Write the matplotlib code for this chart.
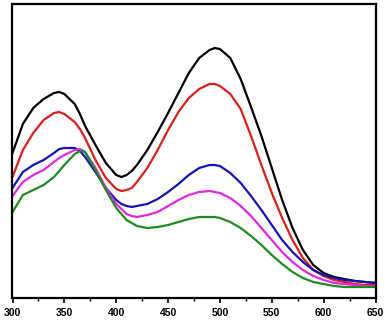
import numpy as np
import matplotlib
matplotlib.use("Agg")
from matplotlib import pyplot as plt
from matplotlib.ticker import MultipleLocator

# wavelength (nm)
wl = [300, 310, 320, 330, 340, 345, 350, 360, 365, 370, 380, 390, 400, 405, 410, 415, 420,
      430, 440, 450, 460, 470, 480, 490, 495, 500, 510, 520, 530, 540, 550, 560, 570,
      580, 590, 600, 610, 620, 630, 640, 650]

# curve heights (a.u.)
black = [145, 174, 190, 199, 205, 206, 204, 194, 184, 172, 153, 135, 123, 121, 123, 127, 133,
         148, 166, 185, 205, 225, 240, 248, 250, 249, 240, 219, 191, 162, 130, 98, 70,
         48, 33, 25, 21, 19, 17, 16, 15]
red = [121, 148, 165, 178, 185, 186, 184, 176, 169, 160, 138, 120, 109, 107, 108, 110, 116,
       130, 148, 168, 186, 200, 209, 214, 214, 212, 204, 189, 162, 133, 105, 80, 58,
       40, 28, 22, 18, 16, 14, 13, 13]
blue = [110, 126, 133, 138, 145, 149, 150, 150, 147, 141, 126, 110, 98, 94, 92, 91, 92,
        94, 99, 106, 114, 123, 130, 133, 133, 132, 125, 115, 102, 88, 73, 58, 46,
        36, 28, 23, 20, 18, 17, 16, 15]
magenta = [102, 116, 123, 128, 136, 140, 143, 148, 149, 146, 130, 110, 94, 89, 84, 82, 81,
           83, 86, 92, 98, 103, 106, 107, 106, 105, 100, 92, 82, 70, 58, 46, 36,
           28, 22, 18, 15, 14, 13, 12, 12]
green = [86, 103, 108, 113, 121, 127, 133, 144, 147, 146, 128, 108, 90, 84, 78, 75, 72,
         70, 71, 73, 76, 79, 81, 81, 81, 80, 76, 70, 62, 53, 43, 34, 26,
         20, 16, 14, 12, 11, 11, 11, 11]

series = [(black, "#000000"), (red, "#d8201c"), (blue, "#1414b4"),
          (magenta, "#e028e0"), (green, "#208a20")]

fig = plt.figure(figsize=(3.88, 3.24), dpi=100)
ax = fig.add_axes([12.5 / 388, 26 / 324, 363 / 388, 294 / 324])

for vals, col in series:
    ax.plot(wl, vals, color=col, lw=1.6, solid_joinstyle="round")

ax.set_xlim(300, 650)
ax.set_ylim(0, 294)
ax.xaxis.set_major_locator(MultipleLocator(50))
ax.xaxis.set_minor_locator(MultipleLocator(25))
ax.set_yticks([])
ax.tick_params(axis="x", which="major", direction="out", length=3.5, width=1.2, pad=3.5)
ax.tick_params(axis="x", which="minor", direction="out", length=2, width=1.0)
for lab in ax.get_xticklabels():
    lab.set_family("Liberation Sans")
    lab.set_fontweight("bold")
    lab.set_fontsize(7.5)
for sp in ax.spines.values():
    sp.set_linewidth(1.6)

fig.savefig("out.png", dpi=100)
